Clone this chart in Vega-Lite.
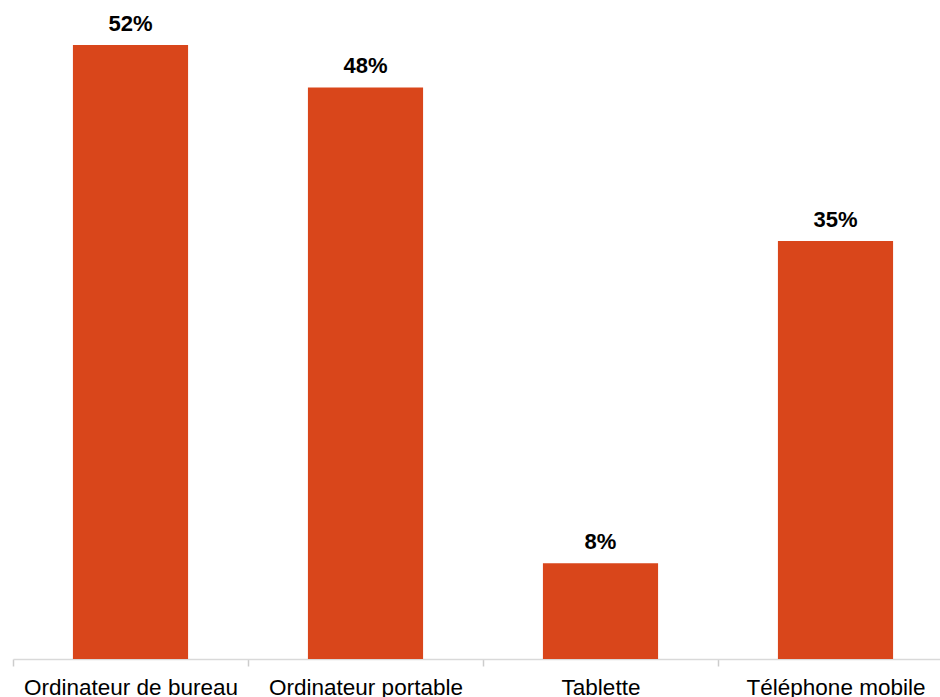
{
  "$schema": "https://vega.github.io/schema/vega-lite/v6.json",
  "width": 927,
  "height": 659,
  "autosize": {"type": "none"},
  "padding": {"left": 13, "top": 0, "right": 0, "bottom": 38},
  "background": "white",
  "config": {"view": {"stroke": null}, "font": "Liberation Sans"},
  "data": {
    "values": [
      {"device": "Ordinateur de bureau", "share": 0.52},
      {"device": "Ordinateur portable", "share": 0.484},
      {"device": "Tablette", "share": 0.081},
      {"device": "Téléphone mobile", "share": 0.354}
    ]
  },
  "encoding": {
    "x": {
      "field": "device",
      "type": "nominal",
      "sort": null,
      "scale": {"range": [0, 940], "paddingInner": 0, "paddingOuter": 0},
      "axis": {
        "title": null,
        "labelAngle": 0,
        "labelFont": "Liberation Sans",
        "labelFontSize": 22.5,
        "labelColor": "#000000",
        "labelBaseline": "alphabetic",
        "labelPadding": 28,
        "labelLimit": 0,
        "labelOverlap": false,
        "ticks": true,
        "tickBand": "extent",
        "tickSize": 7,
        "tickWidth": 1.5,
        "tickColor": "#cccccc",
        "domainColor": "#d9d9d9",
        "domainWidth": 1.5,
        "grid": false
      }
    },
    "y": {
      "field": "share",
      "type": "quantitative",
      "scale": {"domain": [0, 0.558], "nice": false},
      "axis": null
    }
  },
  "layer": [
    {"mark": {"type": "bar", "color": "#D9461B", "width": {"band": 0.49}}},
    {
      "mark": {"type": "text", "baseline": "alphabetic", "dy": -14, "fontSize": 22, "fontWeight": "bold", "font": "Liberation Sans", "color": "#000000"},
      "encoding": {"text": {"field": "share", "type": "quantitative", "format": ".0%"}}
    }
  ]
}
